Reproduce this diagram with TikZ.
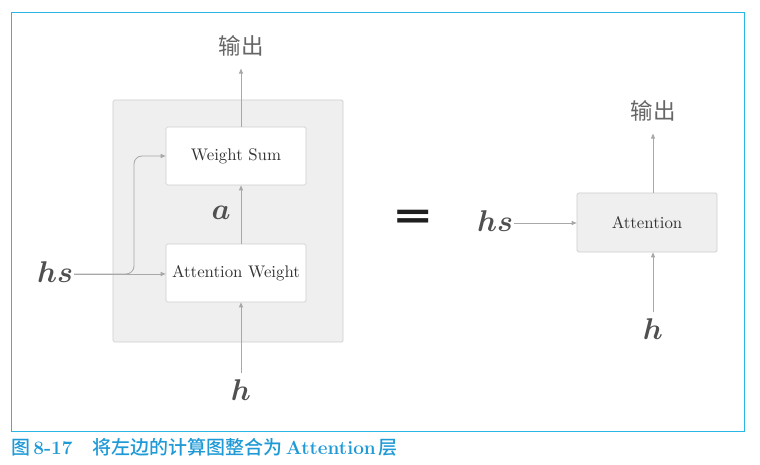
\RequirePackage{fix-cm}
\documentclass[tikz,border=0pt]{standalone}
\usepackage{fontspec}
\usepackage{amsmath}
\newfontfamily\cjk{Noto Sans CJK SC}
\newfontfamily\cjkm{Noto Sans CJK SC}[UprightFont=* Medium]
\newfontfamily\lmten{lmroman10-regular}[Extension=.otf]
\newfontfamily\djs{DejaVu Sans}
\usetikzlibrary{arrows.meta}
\definecolor{framebl}{HTML}{2BB6E8}
\definecolor{capbl}{HTML}{1F9AD6}
\definecolor{arrgray}{HTML}{A8A8A8}
\definecolor{boxline}{HTML}{CDCDCD}
\definecolor{boxfill}{HTML}{EFEFEF}
\definecolor{mathgray}{HTML}{505050}
\definecolor{outgray}{HTML}{666666}
\definecolor{boxtext}{HTML}{333333}
\tikzset{
  arr/.style={draw=arrgray, line width=0.8pt, -{Triangle[length=5pt,width=4pt]}},
  wbox/.style={draw=boxline, fill=white, rounded corners=1.5pt, line width=0.7pt,
    minimum width=140pt, minimum height=58pt, inner sep=0pt,
    font=\lmten\fontsize{16.8}{18}\selectfont, text=boxtext},
  gbox/.style={wbox, fill=boxfill, minimum height=59pt},
  mlab/.style={inner sep=1pt, text=mathgray, font=\fontsize{30}{32}\selectfont},
  outlab/.style={inner sep=1pt, text=outgray, font=\cjk\fontsize{22.5}{24}\selectfont},
}
\begin{document}
\begin{tikzpicture}[x=1pt,y=-1pt]
\useasboundingbox (0,0) rectangle (760,465);
% outer frame
\draw[framebl, line width=1pt] (11,13) rectangle (744,431);
% caption
\node[anchor=west, inner sep=0pt, text=capbl, font=\fontsize{19}{21}\selectfont] (cap) at (11,447)
  {{\cjkm 图}\,\textbf{8-17}\hspace{20pt}{\cjkm 将左边的计算图整合为}\,\textbf{Attention}\,{\cjkm 层}};
% left group
\draw[draw=boxline, fill=boxfill, rounded corners=1.5pt, line width=0.7pt] (113,100) rectangle (343,342);
\node[wbox] (ws) at (236,156) {Weight Sum};
\node[wbox] (aw) at (236,273) {Attention Weight};
\node[outlab] (out1) at (241,46) {输出};
\node[mlab] (a) at (221,213) {$\boldsymbol{a}$};
\node[mlab] (hs1) at (55,272) {$\boldsymbol{hs}$};
\node[mlab] (h1) at (241,390) {$\boldsymbol{h}$};
\coordinate (bx) at (134,0);
\draw[arr] (ws.north -| out1) -- ([yshift=-11pt]out1.south);
\draw[arr] (aw.north -| out1) -- (ws.south -| out1);
\draw[arr] ([yshift=5pt]h1.north) -- (aw.south -| h1);
\draw[arr] ([yshift=-2pt]hs1.east) -- ([yshift=-2pt]hs1.east -| aw.west);
\draw[arr, rounded corners=8pt] ([yshift=-2pt]hs1.east) -| (ws.west -| bx) -- (ws.west);
% equals
\node[inner sep=0pt, text=black!88, font=\djs\bfseries\fontsize{38}{38}\selectfont] (eq) at (413,219.5) {\scalebox{1.3}[1]{=}};
% right group
\node[gbox] (att) at (647,222.5) {Attention};
\node[mlab] (hs2) at (495,221) {$\boldsymbol{hs}$};
\node[outlab] (out2) at (653,111) {输出};
\node[mlab] (h2) at (653,329) {$\boldsymbol{h}$};
\draw[arr] ([yshift=-2pt]hs2.east) -- ([yshift=-2pt]hs2.east -| att.west);
\draw[arr] (att.north -| out2) -- ([yshift=-11pt]out2.south);
\draw[arr] ([yshift=5pt]h2.north) -- (att.south -| h2);
\end{tikzpicture}
\end{document}
